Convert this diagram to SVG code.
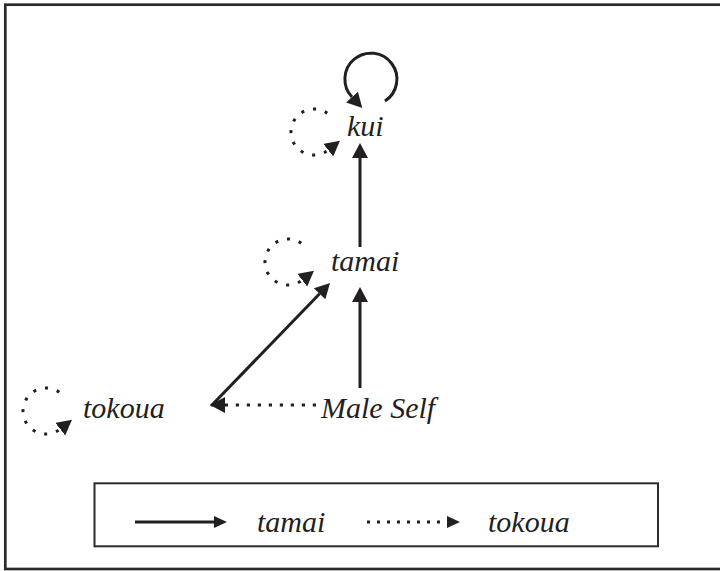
<svg xmlns="http://www.w3.org/2000/svg" width="720" height="571" viewBox="0 0 720 571">
  <style>
    .lbl { font-style: italic; font-size: 30px; fill: #231f20; }
    .solid { fill: none; stroke: #231f20; stroke-width: 3; }
    .dot { fill: none; stroke: #231f20; stroke-width: 3; stroke-dasharray: 3 9; }
    .hdot { fill: none; stroke: #231f20; stroke-width: 3.2; stroke-dasharray: 3.2 7.8; }
    .ldot { fill: none; stroke: #231f20; stroke-width: 3; stroke-dasharray: 3 7; }
    .frame { fill: none; stroke: #2b2b2b; }
  </style>
  <defs>
    <marker id="ah" markerUnits="userSpaceOnUse" markerWidth="16" markerHeight="17" refX="0" refY="8" orient="auto">
      <path d="M0,0 L15,8 L0,16 z" fill="#231f20"/>
    </marker>
    <marker id="ahs" markerUnits="userSpaceOnUse" markerWidth="14" markerHeight="13" refX="0" refY="6" orient="auto">
      <path d="M0,0 L13,6 L0,12 z" fill="#231f20"/>
    </marker>
    <path id="loop" d="M13.2,-18.8 A23,23 0 1 0 14.2,18.1"/>
  </defs>

  <rect class="frame" x="5.3" y="4.7" width="740" height="564.3" stroke-width="2.7"/>

  <g id="connectors">
    <path class="solid" d="M385,101 A26,26 0 1 0 352,97" marker-end="url(#ah)"/>
    <use href="#loop" class="dot" transform="translate(314,132)" marker-end="url(#ah)"/>
    <use href="#loop" class="dot" transform="translate(288,262)" marker-end="url(#ah)"/>
    <use href="#loop" class="dot" transform="translate(46,411)" marker-end="url(#ah)"/>
    <path class="solid" d="M360,247 L360,158" marker-end="url(#ah)"/>
    <path class="solid" d="M360,388 L360,302" marker-end="url(#ah)"/>
    <path class="solid" d="M211,406 L319.6,293.8" marker-end="url(#ah)"/>
    <path class="hdot" d="M316,405 L225,405" marker-end="url(#ah)"/>
  </g>

  <g id="kui"><text class="lbl" font-family="Liberation Serif, Times New Roman, serif" x="347" y="136">kui</text></g>
  <g id="tamai"><text class="lbl" font-family="Liberation Serif, Times New Roman, serif" x="331" y="271">tamai</text></g>
  <g id="tokoua"><text class="lbl" font-family="Liberation Serif, Times New Roman, serif" x="83" y="418">tokoua</text></g>
  <g id="male-self"><text class="lbl" font-family="Liberation Serif, Times New Roman, serif" x="321" y="418">Male Self</text></g>

  <g id="legend">
    <rect class="frame" x="94.5" y="483.3" width="563.5" height="63" stroke-width="2"/>
    <path class="solid" d="M135,522 L214,522" marker-end="url(#ahs)"/>
    <text class="lbl" font-family="Liberation Serif, Times New Roman, serif" x="257" y="532">tamai</text>
    <path class="ldot" d="M367,522 L447,522" marker-end="url(#ahs)"/>
    <text class="lbl" font-family="Liberation Serif, Times New Roman, serif" x="488" y="532">tokoua</text>
  </g>
</svg>
